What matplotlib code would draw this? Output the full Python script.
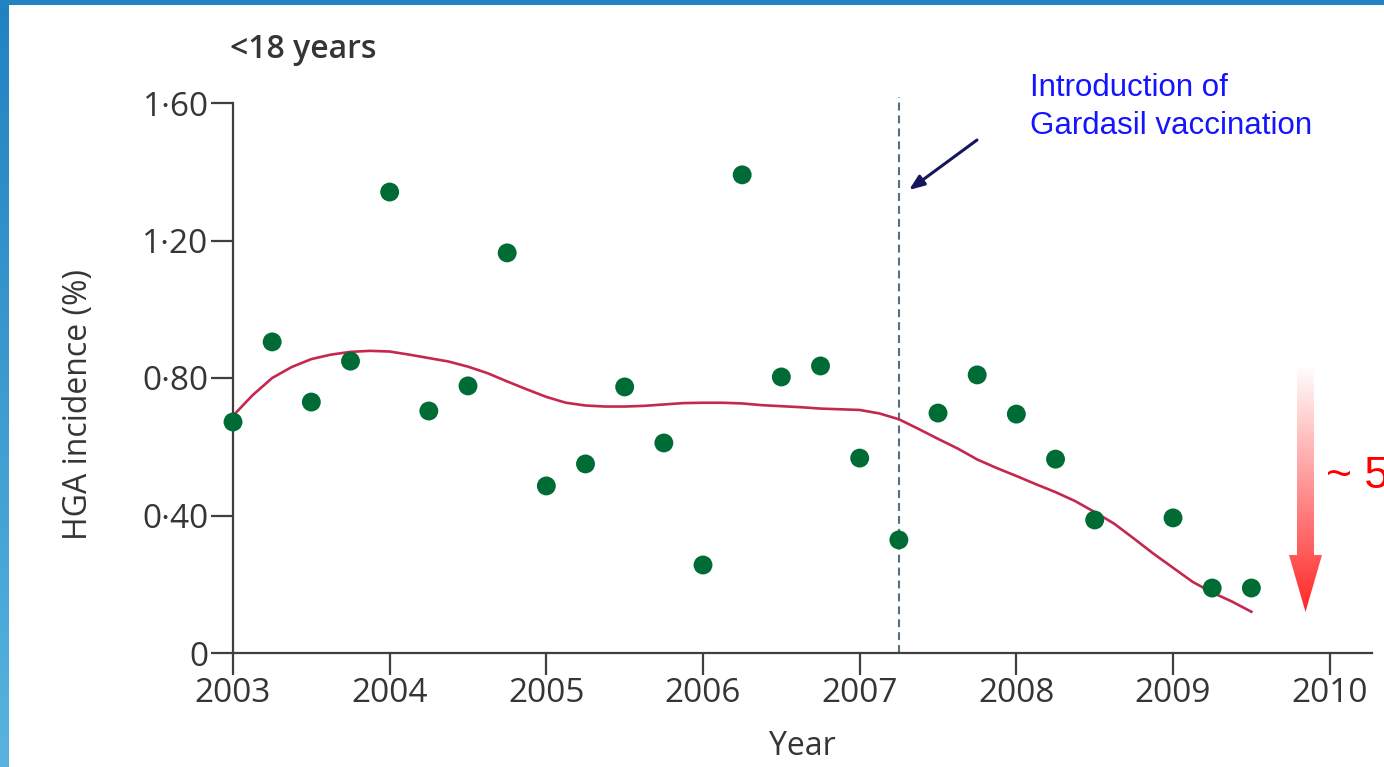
import numpy as np
import matplotlib
matplotlib.use('Agg')
import matplotlib.pyplot as plt
from matplotlib.patches import Polygon, Rectangle

plt.rcParams['font.family'] = 'Open Sans'

# quarterly HGA incidence, <18 years
years = [2003.00, 2003.25, 2003.50, 2003.75, 2004.00, 2004.25, 2004.50, 2004.75,
         2005.00, 2005.25, 2005.50, 2005.75, 2006.00, 2006.25, 2006.50, 2006.75,
         2007.00, 2007.25, 2007.50, 2007.75, 2008.00, 2008.25, 2008.50,
         2009.00, 2009.25, 2009.50]
incidence = [0.672, 0.905, 0.730, 0.849, 1.341, 0.704, 0.777, 1.164,
             0.486, 0.550, 0.774, 0.611, 0.256, 1.391, 0.803, 0.835,
             0.567, 0.329, 0.698, 0.809, 0.695, 0.564, 0.387,
             0.393, 0.189, 0.189]

# smoothed trend, every 1/8 year
trend_x = [2003.000, 2003.125, 2003.250, 2003.375, 2003.500, 2003.625, 2003.750, 2003.875,
           2004.000, 2004.125, 2004.250, 2004.375, 2004.500, 2004.625, 2004.750, 2004.875,
           2005.000, 2005.125, 2005.250, 2005.375, 2005.500, 2005.625, 2005.750, 2005.875,
           2006.000, 2006.125, 2006.250, 2006.375, 2006.500, 2006.625, 2006.750, 2006.875,
           2007.000, 2007.125, 2007.250, 2007.375, 2007.500, 2007.625, 2007.750, 2007.875,
           2008.000, 2008.125, 2008.250, 2008.375, 2008.500, 2008.625, 2008.750, 2008.875,
           2009.000, 2009.125, 2009.250, 2009.375, 2009.500]
trend_y = [0.690, 0.750, 0.800, 0.832, 0.855, 0.868, 0.876, 0.879,
           0.877, 0.868, 0.858, 0.848, 0.833, 0.814, 0.790, 0.767,
           0.745, 0.728, 0.720, 0.717, 0.717, 0.719, 0.723, 0.727,
           0.728, 0.728, 0.726, 0.721, 0.718, 0.715, 0.711, 0.709,
           0.707, 0.697, 0.680, 0.652, 0.623, 0.595, 0.563, 0.538,
           0.515, 0.491, 0.468, 0.442, 0.410, 0.376, 0.333, 0.289,
           0.248, 0.207, 0.176, 0.150, 0.120]

yticks = [0, 0.4, 0.8, 1.2, 1.6]
ytick_labels = ['0', '0·40', '0·80', '1·20', '1·60']
xticks = [2003, 2004, 2005, 2006, 2007, 2008, 2009, 2010]
vaccine_year = 2007.25

W, H = 1384, 767
fig = plt.figure(figsize=(W / 100, H / 100), dpi=100)
ax = fig.add_axes([233 / W, 1 - 653 / H, (1372 - 233) / W, (653 - 103) / H])
ax.set_facecolor('none')

axis_col = '#3f3f3f'
text_col = '#353535'

ax.plot(trend_x, trend_y, color='#c4284e', lw=1.9, clip_on=False, zorder=3)
ax.scatter(years, incidence, s=185, color='#006c35', edgecolors='none', clip_on=False, zorder=4)
ax.plot([vaccine_year, vaccine_year], [0, 1.617], color='#5b6e7d', lw=1.5,
        dashes=(3.8, 2.4), clip_on=False, zorder=2)

ax.set_xlim(2003, 2010.27)
ax.set_ylim(0, 1.6)
ax.set_xticks(xticks)
ax.set_xticklabels([str(x) for x in xticks])
ax.set_yticks(yticks)
ax.set_yticklabels(ytick_labels)

for s in ['top', 'right']:
    ax.spines[s].set_visible(False)
for s in ['left', 'bottom']:
    ax.spines[s].set_color(axis_col)
    ax.spines[s].set_linewidth(1.6)
ax.tick_params(axis='both', direction='out', length=15.5, width=1.6, color=axis_col,
               labelsize=24, labelcolor=text_col)
ax.tick_params(axis='y', pad=2)
ax.tick_params(axis='x', pad=2)

ax.set_ylabel('HGA incidence (%)', fontsize=23, color=text_col, labelpad=34)
ax.yaxis.label.set_y(0.451)
ax.set_xlabel('Year', fontsize=23, color=text_col, labelpad=14)

fig.text(230 / W, 1 - 50 / H, '<18 years', fontsize=23, fontweight='semibold',
         color=text_col, va='center', ha='left')

# annotation
fig.text(1030 / W, 1 - 107 / H, 'Introduction of\nGardasil vaccination',
         family='Liberation Sans', fontsize=22.5, color='#1414ff',
         va='center', ha='left', linespacing=1.31)
ax.annotate('', xy=(909 / W, 1 - 190 / H), xytext=(977 / W, 1 - 140 / H),
            xycoords='figure fraction', textcoords='figure fraction',
            arrowprops=dict(arrowstyle='-|>,head_length=0.9,head_width=0.35',
                            color='#16165c', lw=2.2, shrinkA=0, shrinkB=0))

# decoration layer in pixel units: slide border and gradient arrow
deco = fig.add_axes([0, 0, 1, 1], zorder=5)
deco.set_xlim(0, W)
deco.set_ylim(H, 0)
deco.axis('off')
deco.patch.set_visible(False)

deco.add_patch(Rectangle((0, 0), W, 5, color='#2383c1', lw=0))
band = np.linspace(0, 1, 256)[:, None]
band_rgb = np.zeros((256, 1, 3))
band_rgb[..., 0] = (0x20 + (0x58 - 0x20) * band) / 255
band_rgb[..., 1] = (0x82 + (0xb3 - 0x82) * band) / 255
band_rgb[..., 2] = (0xc1 + (0xdf - 0xc1) * band) / 255
deco.imshow(band_rgb, extent=(0, 9, H, 0), aspect='auto', interpolation='bilinear')

arrow = Polygon([(1297, 365), (1314, 365), (1314, 555), (1322, 555), (1305.5, 612),
                 (1289, 555), (1297, 555)], closed=True, facecolor='none', edgecolor='none')
deco.add_patch(arrow)
g = np.linspace(0, 1, 256)[:, None]
grad = np.ones((256, 1, 3))
grad[..., 1] = 1 - 0.85 * g
grad[..., 2] = 1 - 0.85 * g
im = deco.imshow(grad, extent=(1289, 1323, 612, 365), aspect='auto', interpolation='bilinear')
im.set_clip_path(arrow)
deco.set_xlim(0, W)
deco.set_ylim(H, 0)

# the reference slide crops this label at its right edge
fig.text(1326 / W, 1 - 476 / H, '~ 5', family='Liberation Sans', fontsize=32,
         color='#ff0000', va='center', ha='left')

fig.savefig('out.png', dpi=100)
